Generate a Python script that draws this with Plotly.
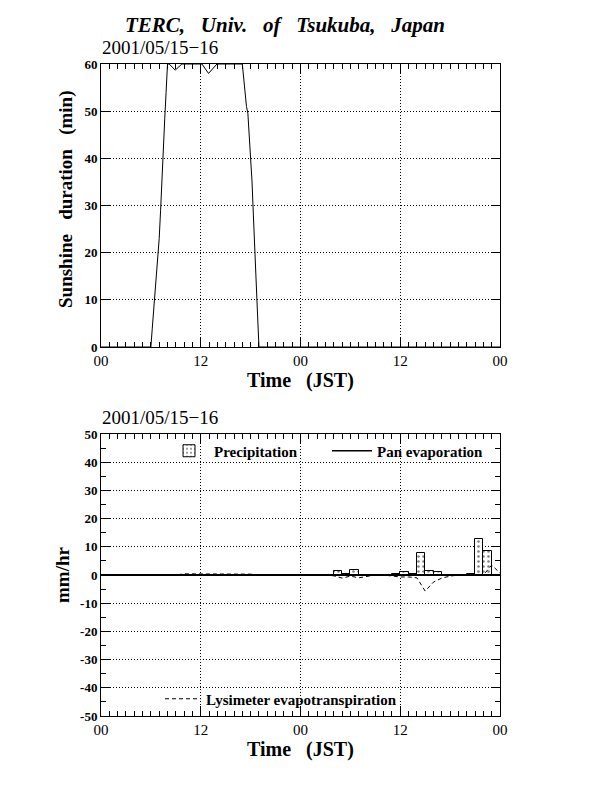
import plotly.graph_objects as go

# sunshine duration (min per hour), time in hours from 2001/05/15 00 JST
sun_time = [0, 6.0, 6.17, 6.33, 6.5, 6.67, 6.83, 7.0, 7.17, 7.33, 7.5, 7.67, 7.83, 8.0,
            8.2, 8.93, 9.73, 12.14, 12.94, 13.95,
            17.0, 17.17, 17.33, 17.5, 17.67, 17.83, 18.0, 18.17, 18.33, 18.5, 18.67, 18.83, 19.0, 48]
sun_min = [0, 0, 4, 7.5, 11, 14.5, 18, 23, 29, 36.5, 43, 48.5, 54, 60,
           60, 58.7, 60, 60, 58, 60,
           60, 56.5, 53.5, 51, 49.5, 45, 41, 35, 28, 19.5, 13, 7, 0, 0]

# hourly values (hour ending 1..48)
hours = list(range(1, 49))
precip = [0, 0, 0, 0, 0, 0, 0, 0, 0, 0, 0, 0,
          0, 0, 0, 0, 0, 0, 0, 0, 0, 0, 0, 0,
          0, 0, 0, 0, 1.4, 0.3, 1.8, 0, 0, 0, 0, 0.3,
          1.1, 0.3, 7.8, 1.4, 1.2, 0, 0, 0, 0.3, 12.8, 8.6, 0]
pan_evap = [0] * 48
lysimeter = [0.2, 0, 0, 0, 0, 0.2, 0, 0, 0, 0.4, 0.4, 0.4,
             0.4, 0.4, 0.4, 0.4, 0.2, 0.3, 0, 0, 0, 0, 0, 0,
             0, 0, 0, -0.3, -1.1, -0.4, -1.0, -0.5, 0, 0, -0.3, -0.7,
             -0.7, -1.0, -5.7, -2.5, -1.1, -0.4, 0, 0, 0, 0, 3.5, 0.7]

x_ticks = [0, 12, 24, 36, 48]
x_labels = ["00", "12", "00", "12", "00"]
sun_ticks = [0, 10, 20, 30, 40, 50, 60]
mm_ticks = [-50, -40, -30, -20, -10, 0, 10, 20, 30, 40, 50]

W, H = 616, 792
OFF = 8  # page body margin
SERIF = "Liberation Serif"


def px_x(p):
    return (p - OFF) / W


def px_y(p):
    return 1 - (p - OFF) / H


fig = go.Figure()

fig.add_trace(go.Scatter(x=sun_time, y=sun_min, mode="lines", line=dict(color="black", width=1),
                         showlegend=False, xaxis="x", yaxis="y"))

fig.add_trace(go.Bar(x=hours, y=precip, width=1, offset=-1, name="Precipitation",
                     marker=dict(color="white", line=dict(color="black", width=1),
                                 pattern=dict(shape=".", fgcolor="black", bgcolor="white",
                                              size=5, solidity=0.2)),
                     xaxis="x2", yaxis="y2", legend="legend"))
fig.add_trace(go.Scatter(x=[0] + hours, y=[0] + pan_evap, mode="lines", name="Pan evaporation",
                         line=dict(color="black", width=1.5), xaxis="x2", yaxis="y2",
                         legend="legend"))
fig.add_trace(go.Scatter(x=[0] + hours, y=[0] + lysimeter, mode="lines",
                         name="Lysimeter evapotranspiration",
                         line=dict(color="black", width=1, dash="4px,3px"), xaxis="x2", yaxis="y2",
                         legend="legend2"))

grid = dict(showgrid=True, gridcolor="black", griddash="1px,2px", gridwidth=1,
            showline=True, linecolor="black", linewidth=1, mirror="allticks",
            ticks="inside", tickcolor="black", zeroline=False, automargin=False)

xaxis = dict(grid, range=[0, 48], tickvals=x_ticks, ticktext=x_labels, ticklen=10,
             tickfont=dict(family=SERIF, size=15, color="black"),
             minor=dict(dtick=1, tick0=0, ticks="inside", ticklen=5, tickcolor="black", showgrid=False),
             domain=[px_x(101), px_x(500)])

fig.update_layout(
    width=W, height=H,
    margin=dict(l=0, r=0, t=0, b=0, autoexpand=False),
    paper_bgcolor="white", plot_bgcolor="white",
    bargap=0,
    xaxis=dict(xaxis, anchor="y"),
    yaxis=dict(grid, range=[0, 60], tickvals=sun_ticks, ticktext=[f"<b>{v}</b>" for v in sun_ticks],
               ticklen=9, tickfont=dict(family=SERIF, size=13, color="black"),
               domain=[px_y(347), px_y(64)], anchor="x"),
    xaxis2=dict(xaxis, anchor="y2"),
    yaxis2=dict(grid, range=[-50, 50], tickvals=mm_ticks, ticktext=[f"<b>{v}</b>" for v in mm_ticks],
                ticklen=9, tickfont=dict(family=SERIF, size=13, color="black"),
                minor=dict(dtick=5, tick0=0, ticks="inside", ticklen=5, tickcolor="black", showgrid=False),
                zeroline=True, zerolinecolor="black", zerolinewidth=1.5,
                domain=[px_y(716), px_y(434)], anchor="x2"),
    legend=dict(x=px_x(164), y=px_y(451), xanchor="left", yanchor="middle", orientation="h",
                bgcolor="rgba(0,0,0,0)", entrywidth=108, itemwidth=40,
                font=dict(family=SERIF, size=15, color="black", weight="bold")),
    legend2=dict(x=px_x(160), y=px_y(699), xanchor="left", yanchor="middle", orientation="h",
                 bgcolor="rgba(0,0,0,0)", itemwidth=36,
                 font=dict(family=SERIF, size=15, color="black", weight="bold")),
)

annotations = [
    dict(text="<b><i>TERC,&nbsp;&nbsp; Univ.&nbsp;&nbsp; of&nbsp;&nbsp; Tsukuba,&nbsp;&nbsp; Japan</i></b>",
         x=px_x(285), y=px_y(25), font=dict(size=21)),
    dict(text="2001/05/15\u221216", x=px_x(100), y=px_y(48), xanchor="left", font=dict(size=19)),
    dict(text="2001/05/15\u221216", x=px_x(100), y=px_y(418), xanchor="left", font=dict(size=19)),
    dict(text="<b>Sunshine&nbsp;&nbsp; duration&nbsp;&nbsp; (min)</b>", x=px_x(66), y=px_y(199),
         textangle=-90, font=dict(size=19)),
    dict(text="<b>mm/hr</b>", x=px_x(62), y=px_y(575), textangle=-90, font=dict(size=19)),
    dict(text="<b>Time&nbsp;&nbsp; (JST)</b>", x=px_x(300), y=px_y(380), font=dict(size=20)),
    dict(text="<b>Time&nbsp;&nbsp; (JST)</b>", x=px_x(300), y=px_y(749), font=dict(size=20)),
]
for a in annotations:
    a.setdefault("xanchor", "center")
    a.update(xref="paper", yref="paper", showarrow=False, yanchor="middle")
    a["font"].update(family=SERIF, color="black")
fig.update_layout(annotations=annotations)

fig.write_html("out.html")
